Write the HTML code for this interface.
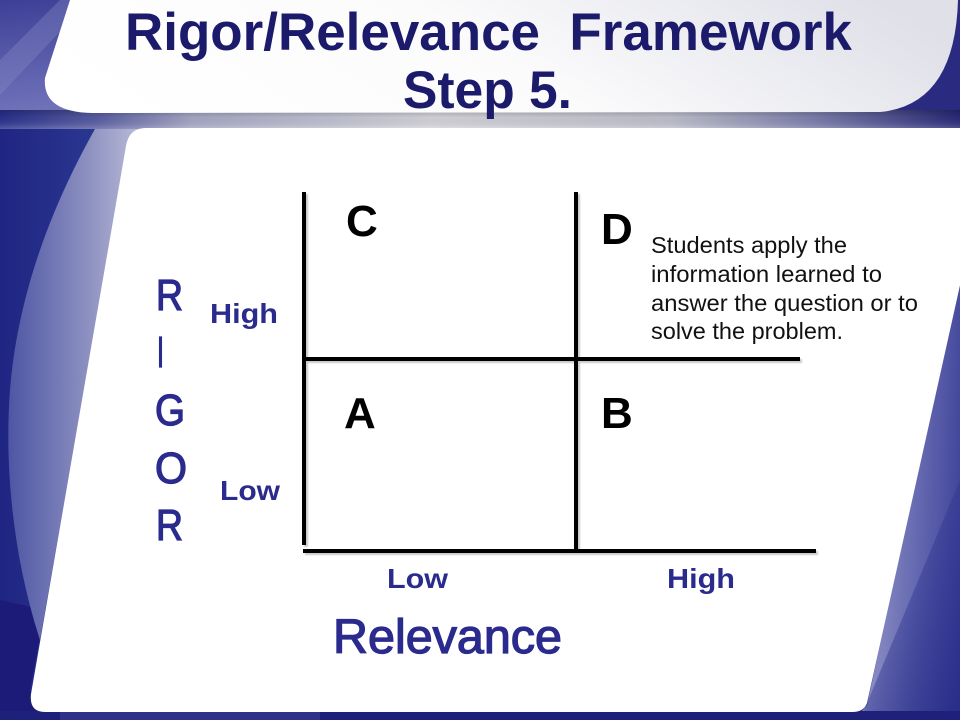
<!DOCTYPE html>
<html>
<head>
<meta charset="utf-8">
<style>
  html,body{margin:0;padding:0;background:#22237f;}
  svg{display:block;}
  text{font-family:"Liberation Sans", Arial, sans-serif;}
</style>
</head>
<body>
<svg width="960" height="720" viewBox="0 0 960 720" xmlns="http://www.w3.org/2000/svg">
  <defs>
    <linearGradient id="bgTop" x1="0" y1="0" x2="1" y2="1">
      <stop offset="0" stop-color="#3d3f97"/>
      <stop offset="0.5" stop-color="#6f72b8"/>
      <stop offset="1" stop-color="#4b4ea3"/>
    </linearGradient>
    <linearGradient id="band" x1="0" y1="0" x2="1" y2="0">
      <stop offset="0" stop-color="#2b3290"/>
      <stop offset="0.1" stop-color="#5a5fa6"/>
      <stop offset="0.2" stop-color="#a9abc8"/>
      <stop offset="0.45" stop-color="#d8d8de"/>
      <stop offset="0.7" stop-color="#c2c3d0"/>
      <stop offset="0.85" stop-color="#7d80ae"/>
      <stop offset="1" stop-color="#2a2b7c"/>
    </linearGradient>
    <linearGradient id="bandV" x1="0" y1="0" x2="0" y2="1">
      <stop offset="0" stop-color="#000" stop-opacity="0.25"/>
      <stop offset="0.4" stop-color="#000" stop-opacity="0.05"/>
      <stop offset="1" stop-color="#fff" stop-opacity="0.2"/>
    </linearGradient>
    <linearGradient id="titleGrad" x1="0" y1="0.6" x2="1" y2="0.4">
      <stop offset="0" stop-color="#ffffff"/>
      <stop offset="0.5" stop-color="#fbfbfc"/>
      <stop offset="1" stop-color="#dfe0e8"/>
    </linearGradient>
    <linearGradient id="leftBg" x1="0" y1="0" x2="1" y2="0">
      <stop offset="0" stop-color="#1f2582"/>
      <stop offset="1" stop-color="#2f4098"/>
    </linearGradient>
    <linearGradient id="lav" x1="0" y1="0" x2="1" y2="0">
      <stop offset="0" stop-color="#4e56a4"/>
      <stop offset="0.6" stop-color="#8c90c0"/>
      <stop offset="1" stop-color="#b9bbd6"/>
    </linearGradient>
    <linearGradient id="rightBg" x1="0" y1="0" x2="1" y2="0.15">
      <stop offset="0" stop-color="#a8aad0"/>
      <stop offset="0.5" stop-color="#6a6eb3"/>
      <stop offset="1" stop-color="#2f3390"/>
    </linearGradient>
    <linearGradient id="rightLow" x1="0" y1="0" x2="1" y2="1">
      <stop offset="0" stop-color="#3a3f9c" stop-opacity="0"/>
      <stop offset="1" stop-color="#262a84" stop-opacity="0.9"/>
    </linearGradient>
    <filter id="sh" x="-5%" y="-5%" width="110%" height="110%">
      <feGaussianBlur stdDeviation="0.8"/>
    </filter>
  </defs>

  <!-- base background -->
  <rect x="0" y="0" width="960" height="720" fill="#22237f"/>

  <!-- top area behind title -->
  <rect x="0" y="0" width="960" height="113" fill="url(#bgTop)"/>
  <rect x="880" y="0" width="80" height="113" fill="#2a2b80"/>
  <path d="M0,60 L60,0 L90,0 L0,95 Z" fill="#8a8dc6" opacity="0.35"/>

  <!-- band under title -->
  <rect x="0" y="110" width="960" height="19" fill="url(#band)"/>
  <rect x="0" y="110" width="960" height="19" fill="url(#bandV)"/>

  <!-- left background -->
  <rect x="0" y="129" width="140" height="591" fill="url(#leftBg)"/>
  <path d="M0,600 L0,720 L60,720 L30,690 L45,610 Z" fill="#1c1c78"/>
  <!-- lavender crescent on left -->
  <path d="M95,129 L140,129 L127,145 L40,640 C14,560 4,470 10,390 C18,290 55,200 95,129 Z" fill="url(#lav)"/>

  <!-- right background -->
  <path d="M960,200 L960,720 L855,720 L867,705 L992,128 Z" fill="url(#rightBg)"/>
  <path d="M960,480 L960,720 L860,720 Z" fill="url(#rightLow)"/>

  <!-- bottom strip -->
  <rect x="0" y="711" width="960" height="9" fill="#1f207a"/>
  <rect x="60" y="711" width="260" height="9" fill="#3a3d92" opacity="0.6"/>

  <!-- title panel -->
  <path d="M70,0 L958,0 Q955,105 880,112 L92,113 Q42,112 45,78 Z" fill="url(#titleGrad)"/>

  <!-- main white panel -->
  <path d="M146,128 L995,128 L867,703 Q864,712 852,712 L45,712 Q29,712 31,694 L126,146 Q129,128 146,128 Z" fill="#ffffff"/>

  <!-- title -->
  <text x="125" y="50" font-size="53" font-weight="bold" fill="#1b1a6b" style="white-space:pre" textLength="727" lengthAdjust="spacingAndGlyphs">Rigor/Relevance  Framework</text>
  <text x="403" y="108" font-size="53" font-weight="bold" fill="#1b1a6b" textLength="169" lengthAdjust="spacingAndGlyphs">Step 5.</text>

  <!-- grid line shadows -->
  <g stroke="#888" stroke-width="4" opacity="0.45" filter="url(#sh)">
    <line x1="306" y1="194" x2="306" y2="547"/>
    <line x1="578" y1="194" x2="578" y2="552"/>
    <line x1="305" y1="361" x2="802" y2="361"/>
    <line x1="305" y1="553" x2="818" y2="553"/>
  </g>
  <!-- grid lines -->
  <g stroke="#000" stroke-width="4">
    <line x1="304" y1="192" x2="304" y2="545"/>
    <line x1="576" y1="192" x2="576" y2="550"/>
    <line x1="303" y1="359" x2="800" y2="359"/>
    <line x1="303" y1="551" x2="816" y2="551"/>
  </g>

  <!-- quadrant letters -->
  <g font-size="44" font-weight="bold" fill="#000">
    <text x="346" y="236">C</text>
    <text x="601" y="244">D</text>
    <text x="344" y="428">A</text>
    <text x="601" y="428">B</text>
  </g>

  <!-- description -->
  <g font-size="23.5" fill="#111">
    <text x="651" y="253" textLength="196" lengthAdjust="spacingAndGlyphs">Students apply the</text>
    <text x="651" y="282" textLength="231" lengthAdjust="spacingAndGlyphs">information learned to</text>
    <text x="651" y="311" textLength="267" lengthAdjust="spacingAndGlyphs">answer the question or to</text>
    <text x="651" y="339" textLength="192" lengthAdjust="spacingAndGlyphs">solve the problem.</text>
  </g>

  <!-- RIGOR vertical -->
  <g font-size="44" fill="#2b2b8e" stroke="#2b2b8e" stroke-width="1.3">
    <text x="156" y="310" textLength="27" lengthAdjust="spacingAndGlyphs">R</text>
    <text x="157" y="367" textLength="7" lengthAdjust="spacingAndGlyphs">I</text>
    <text x="155" y="425" textLength="30" lengthAdjust="spacingAndGlyphs">G</text>
    <text x="155" y="483" textLength="32" lengthAdjust="spacingAndGlyphs">O</text>
    <text x="156" y="540" textLength="27" lengthAdjust="spacingAndGlyphs">R</text>
  </g>

  <!-- axis labels -->
  <g font-size="28" font-weight="bold" fill="#2b2b8e">
    <text x="210" y="323" textLength="68" lengthAdjust="spacingAndGlyphs">High</text>
    <text x="220" y="500" textLength="60" lengthAdjust="spacingAndGlyphs">Low</text>
    <text x="387" y="588" textLength="61" lengthAdjust="spacingAndGlyphs">Low</text>
    <text x="667" y="588" textLength="68" lengthAdjust="spacingAndGlyphs">High</text>
  </g>
  <text x="333" y="653" font-size="48" fill="#2b2b8e" stroke="#2b2b8e" stroke-width="1.3" textLength="229" lengthAdjust="spacingAndGlyphs">Relevance</text>
</svg>
</body>
</html>
